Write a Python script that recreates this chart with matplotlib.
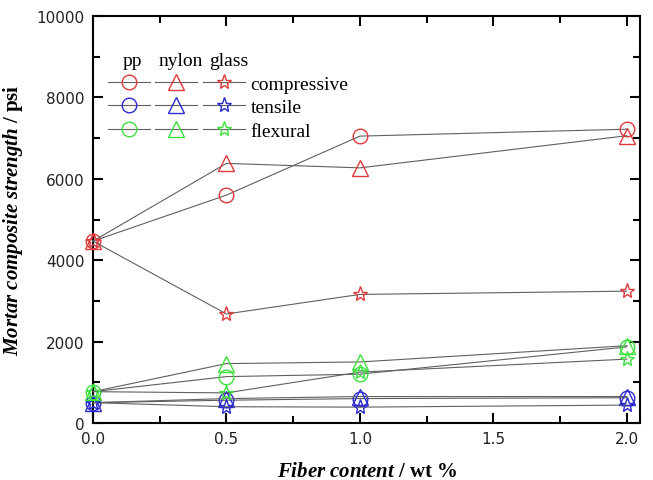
import matplotlib.pyplot as plt
from matplotlib.ticker import MultipleLocator

plt.rcParams["mathtext.fontset"] = "custom"
plt.rcParams["mathtext.rm"] = "Liberation Serif"
plt.rcParams["mathtext.it"] = "Liberation Serif:italic"
plt.rcParams["mathtext.bf"] = "Liberation Serif:bold"
plt.rcParams["mathtext.bfit"] = "Liberation Serif:bold:italic"

fiber = [0.0, 0.5, 1.0, 2.0]

comp_pp = [4470, 5600, 7050, 7220]
comp_nylon = [4470, 6380, 6270, 7060]
comp_glass = [4470, 2680, 3160, 3240]

tens_pp = [500, 560, 600, 620]
tens_nylon = [500, 600, 650, 650]
tens_glass = [500, 400, 390, 440]

flex_pp = [770, 1140, 1200, 1870]
flex_nylon = [770, 1460, 1500, 1900]
flex_glass = [770, 740, 1250, 1570]

RED = "#e03a3a"
BLUE = "#2a2ad0"
GREEN = "#3ee03e"
LINE = "#606060"

series = [
    (comp_pp, "o", RED), (comp_nylon, "^", RED), (comp_glass, "*", RED),
    (tens_pp, "o", BLUE), (tens_nylon, "^", BLUE), (tens_glass, "*", BLUE),
    (flex_pp, "o", GREEN), (flex_nylon, "^", GREEN), (flex_glass, "*", GREEN),
]
sizes = {"o": 10.5, "^": 11, "*": 11}

fig = plt.figure(figsize=(6.53, 4.81), dpi=100)
ax = fig.add_axes([0.1424, 0.1185, 0.838, 0.846])

handles = {}
for ys, m, c in series:
    h, = ax.plot(fiber, ys, color=LINE, lw=0.8, marker=m, ms=sizes[m],
                 mfc="none", mec=c, mew=1.0, clip_on=False, zorder=3)
    handles[(m, c)] = h

ax.set_xlim(0, 2.05)
ax.set_ylim(0, 10000)
ax.xaxis.set_major_locator(MultipleLocator(0.5))
ax.xaxis.set_minor_locator(MultipleLocator(0.25))
ax.yaxis.set_major_locator(MultipleLocator(2000))
ax.yaxis.set_minor_locator(MultipleLocator(1000))
ax.tick_params(which="both", direction="in", top=True, right=True, width=1.5)
ax.tick_params(which="major", length=7, labelsize=11, pad=6, labelcolor="#222222")
ax.tick_params(which="minor", length=5)
for s in ax.spines.values():
    s.set_linewidth(1.5)
ax.xaxis.set_major_formatter(plt.FuncFormatter(lambda v, p: f"{v:.1f}"))

ax.set_xlabel(r"$\mathbfit{Fiber\ content}\ \mathbf{/\ wt\ \%}$", fontsize=15, labelpad=10)
ax.set_ylabel(r"$\mathbfit{Mortar\ composite\ strength}\ \mathbf{/\ psi}$", fontsize=15, labelpad=8)

# legend: three marker columns, label on the last one
order = []
labels = []
for m in ["o", "^", "*"]:
    for c, lab in [(RED, "compressive"), (BLUE, "tensile"), (GREEN, "flexural")]:
        order.append(handles[(m, c)])
        labels.append(lab if m == "*" else "")
leg = ax.legend(order, labels, ncol=3, loc="upper left", bbox_to_anchor=(0.027, 0.855),
                frameon=False, handlelength=2.15, handletextpad=0.3, columnspacing=0.0,
                labelspacing=0.3, borderpad=0, borderaxespad=0,
                prop={"family": "Liberation Serif", "size": 14})

for x, t in [(0.055, "pp"), (0.12, "nylon"), (0.213, "glass")]:
    ax.text(x, 0.892, t, transform=ax.transAxes, fontsize=14,
            family="Liberation Serif", va="center")

fig.savefig("out.png", dpi=100)
